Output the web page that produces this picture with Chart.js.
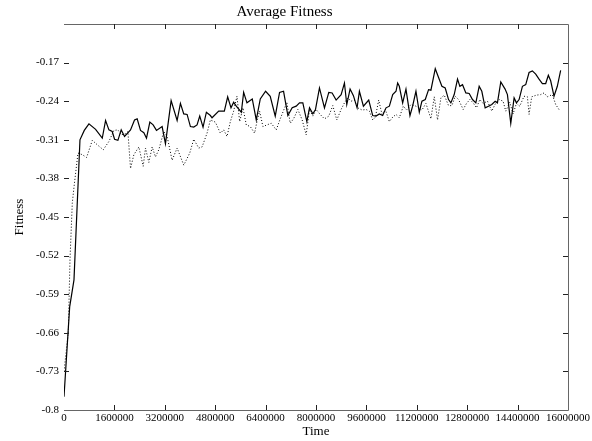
<!DOCTYPE html>
<html>
<head>
<meta charset="utf-8">
<script src="https://cdn.jsdelivr.net/npm/chart.js@4"></script>
<style>
  html, body { margin: 0; padding: 0; background: #fff; }
</style>
</head>
<body>
<canvas id="fitnessChart" width="592" height="441"></canvas>
<script>
// solid run: time / fitness
const solidTime = [
    0, 180000, 317000, 507000, 644000, 792000, 1003000, 1215000, 1320000, 1426000,
    1531000, 1605000, 1711000, 1816000, 1922000, 2112000, 2239000, 2323000, 2429000, 2535000,
    2619000, 2725000, 2830000, 2936000, 3115000, 3221000, 3401000, 3591000, 3696000, 3802000,
    3908000, 4013000, 4119000, 4224000, 4309000, 4414000, 4520000, 4647000, 4700000, 4911000,
    5090000, 5196000, 5302000, 5386000, 5470000, 5629000, 5703000, 5808000, 5977000, 6104000,
    6231000, 6400000, 6547000, 6706000, 6843000, 6970000, 7107000, 7244000, 7371000, 7477000,
    7582000, 7709000, 7794000, 7899000, 7984000, 8110000, 8269000, 8406000, 8512000, 8639000,
    8798000, 8903000, 8977000, 9082000, 9188000, 9304000, 9378000, 9505000, 9674000, 9800000,
    9906000, 10011000, 10117000, 10223000, 10329000, 10435000, 10540000, 10592000, 10645000, 10751000,
    10856000, 10983000, 11067000, 11173000, 11279000, 11363000, 11469000, 11574000, 11648000, 11786000,
    11891000, 11997000, 12102000, 12208000, 12282000, 12388000, 12493000, 12567000, 12652000, 12757000,
    12863000, 12968000, 13074000, 13180000, 13264000, 13370000, 13475000, 13581000, 13687000, 13760000,
    13866000, 14003000, 14077000, 14183000, 14289000, 14363000, 14447000, 14553000, 14658000, 14764000,
    14869000, 14975000, 15081000, 15186000, 15292000, 15376000, 15450000, 15556000, 15661000, 15767000
];
const solidFitness = [
    -0.776, -0.613, -0.564, -0.310, -0.293, -0.281, -0.291, -0.307, -0.275, -0.292,
    -0.295, -0.309, -0.311, -0.292, -0.304, -0.292, -0.274, -0.272, -0.293, -0.297,
    -0.307, -0.278, -0.283, -0.293, -0.286, -0.317, -0.239, -0.275, -0.244, -0.263,
    -0.264, -0.286, -0.287, -0.283, -0.267, -0.287, -0.260, -0.266, -0.270, -0.258,
    -0.258, -0.232, -0.252, -0.242, -0.249, -0.260, -0.224, -0.243, -0.236, -0.274,
    -0.236, -0.222, -0.231, -0.267, -0.224, -0.222, -0.266, -0.252, -0.249, -0.243,
    -0.243, -0.277, -0.252, -0.263, -0.255, -0.216, -0.252, -0.224, -0.225, -0.238,
    -0.228, -0.207, -0.246, -0.218, -0.230, -0.252, -0.222, -0.249, -0.238, -0.266,
    -0.267, -0.263, -0.266, -0.252, -0.249, -0.228, -0.222, -0.207, -0.213, -0.243,
    -0.218, -0.266, -0.249, -0.222, -0.260, -0.240, -0.237, -0.219, -0.220, -0.181,
    -0.197, -0.213, -0.216, -0.237, -0.243, -0.228, -0.200, -0.213, -0.210, -0.225,
    -0.226, -0.237, -0.243, -0.213, -0.222, -0.252, -0.249, -0.246, -0.240, -0.243,
    -0.205, -0.218, -0.228, -0.280, -0.234, -0.243, -0.237, -0.213, -0.210, -0.188,
    -0.185, -0.191, -0.200, -0.208, -0.208, -0.193, -0.203, -0.231, -0.213, -0.184
];

// dotted run
const dottedTime = [
    0, 136000, 190000, 263000, 317000, 444000, 581000, 718000, 898000, 1056000,
    1246000, 1426000, 1584000, 1711000, 1816000, 1954000, 2028000, 2112000, 2218000, 2376000,
    2514000, 2587000, 2693000, 2799000, 2904000, 3010000, 3168000, 3274000, 3432000, 3591000,
    3802000, 3992000, 4119000, 4277000, 4383000, 4541000, 4647000, 4805000, 4964000, 5069000,
    5175000, 5281000, 5386000, 5491000, 5576000, 5681000, 5787000, 5914000, 6051000, 6125000,
    6209000, 6315000, 6442000, 6579000, 6738000, 6864000, 7075000, 7181000, 7287000, 7424000,
    7561000, 7688000, 7794000, 7899000, 8005000, 8132000, 8269000, 8406000, 8533000, 8660000,
    8797000, 8903000, 9008000, 9114000, 9219000, 9325000, 9462000, 9589000, 9695000, 9800000,
    9885000, 9990000, 10096000, 10201000, 10328000, 10434000, 10540000, 10645000, 10772000, 10877000,
    11015000, 11173000, 11363000, 11490000, 11648000, 11754000, 11859000, 11965000, 12071000, 12208000,
    12314000, 12419000, 12525000, 12673000, 12778000, 12884000, 12989000, 13095000, 13201000, 13306000,
    13444000, 13581000, 13708000, 13813000, 13940000, 14024000, 14151000, 14257000, 14363000, 14468000,
    14605000, 14711000, 14764000, 14848000, 14996000, 15133000, 15239000, 15345000, 15503000, 15609000,
    15714000, 15767000
];
const dottedFitness = [
    -0.730, -0.660, -0.528, -0.425, -0.396, -0.334, -0.337, -0.342, -0.311, -0.319,
    -0.328, -0.313, -0.293, -0.292, -0.301, -0.299, -0.295, -0.362, -0.337, -0.323,
    -0.358, -0.325, -0.351, -0.323, -0.341, -0.328, -0.295, -0.304, -0.347, -0.325,
    -0.356, -0.334, -0.309, -0.325, -0.323, -0.298, -0.274, -0.278, -0.298, -0.292,
    -0.304, -0.277, -0.258, -0.231, -0.277, -0.252, -0.283, -0.286, -0.298, -0.277,
    -0.258, -0.286, -0.283, -0.280, -0.292, -0.272, -0.242, -0.280, -0.272, -0.255,
    -0.274, -0.301, -0.255, -0.267, -0.255, -0.264, -0.272, -0.267, -0.248, -0.274,
    -0.255, -0.243, -0.234, -0.240, -0.238, -0.252, -0.256, -0.255, -0.258, -0.274,
    -0.269, -0.238, -0.264, -0.255, -0.277, -0.269, -0.264, -0.270, -0.249, -0.256,
    -0.246, -0.249, -0.256, -0.244, -0.272, -0.232, -0.274, -0.234, -0.229, -0.248,
    -0.248, -0.231, -0.237, -0.255, -0.244, -0.237, -0.243, -0.252, -0.237, -0.244,
    -0.240, -0.258, -0.243, -0.237, -0.240, -0.258, -0.242, -0.263, -0.244, -0.249,
    -0.231, -0.232, -0.264, -0.232, -0.229, -0.228, -0.225, -0.232, -0.228, -0.246,
    -0.255, -0.255
];

const xTickValues = [0, 1600000, 3200000, 4800000, 6400000, 8000000, 9600000, 11200000, 12800000, 14400000, 16000000];
const yTickValues = [-0.8, -0.73, -0.66, -0.59, -0.52, -0.45, -0.38, -0.31, -0.24, -0.17];
const yTickLabels = ['-0.8', '-0.73', '-0.66', '-0.59', '-0.52', '-0.45', '-0.38', '-0.31', '-0.24', '-0.17'];

Chart.defaults.font.family = '"Liberation Serif", "DejaVu Serif", serif';
Chart.defaults.color = '#000';

// box round the plot, with short inward ticks on all four sides
const frameTicks = {
    id: 'frameTicks',
    afterDatasetsDraw(chart) {
        const { ctx, chartArea: a, scales } = chart;
        const L = 5;
        ctx.save();
        ctx.lineWidth = 1;
        ctx.strokeStyle = '#666';
        ctx.beginPath();
        ctx.moveTo(a.left, a.top + 0.5);
        ctx.lineTo(a.right + 0.5, a.top + 0.5);
        ctx.lineTo(a.right + 0.5, a.bottom + 0.5);
        ctx.lineTo(a.left, a.bottom + 0.5);
        ctx.stroke();

        ctx.strokeStyle = '#222';
        ctx.beginPath();
        xTickValues.slice(1, -1).forEach(v => {
            const px = Math.round(scales.x.getPixelForValue(v)) + 0.5;
            ctx.moveTo(px, a.bottom);
            ctx.lineTo(px, a.bottom - L);
            ctx.moveTo(px, a.top);
            ctx.lineTo(px, a.top + L);
        });
        yTickValues.slice(1).forEach(v => {
            const py = Math.round(scales.y.getPixelForValue(v)) + 0.5;
            ctx.moveTo(a.left, py);
            ctx.lineTo(a.left + L, py);
            ctx.moveTo(a.right, py);
            ctx.lineTo(a.right - L, py);
        });
        ctx.stroke();
        ctx.restore();
    }
};

const config = {
    type: 'line',
    data: {
        datasets: [
            {
                label: 'solid',
                data: solidTime.map((t, i) => ({ x: t, y: solidFitness[i] })),
                borderColor: '#000',
                borderWidth: 1.2,
                pointRadius: 0,
                tension: 0
            },
            {
                label: 'dotted',
                data: dottedTime.map((t, i) => ({ x: t, y: dottedFitness[i] })),
                borderColor: '#000',
                borderWidth: 1,
                borderDash: [1, 2],
                pointRadius: 0,
                tension: 0
            }
        ]
    },
    options: {
        responsive: false,
        animation: false,
        layout: { padding: { right: 23 } },
        plugins: {
            legend: { display: false },
            tooltip: { enabled: false },
            title: {
                display: true,
                text: 'Average Fitness',
                font: { size: 15, weight: 'normal' },
                color: '#000',
                padding: { top: 3, bottom: 3 }
            }
        },
        scales: {
            x: {
                type: 'linear',
                min: 0,
                max: 16000000,
                grid: { display: false, drawTicks: false },
                border: { display: false },
                afterBuildTicks: axis => { axis.ticks = xTickValues.map(v => ({ value: v })); },
                afterFit: axis => { axis.height = 31; },
                ticks: {
                    autoSkip: false,
                    maxRotation: 0,
                    padding: 2,
                    font: { size: 11 },
                    callback: value => String(value)
                },
                title: {
                    display: true,
                    text: 'Time',
                    font: { size: 13 },
                    padding: { top: 0, bottom: 2 }
                }
            },
            y: {
                min: -0.8,
                max: -0.1,
                grid: { display: false, drawTicks: false },
                border: { display: false },
                afterBuildTicks: axis => { axis.ticks = yTickValues.map(v => ({ value: v })); },
                afterFit: axis => { axis.width = 64; },
                ticks: {
                    padding: 5,
                    font: { size: 11 },
                    callback: (value, index) => yTickLabels[index]
                },
                title: {
                    display: true,
                    text: 'Fitness',
                    font: { size: 13 },
                    padding: { top: 12, bottom: 0 }
                }
            }
        }
    },
    plugins: [frameTicks]
};

new Chart(document.getElementById('fitnessChart'), config);
</script>
</body>
</html>
